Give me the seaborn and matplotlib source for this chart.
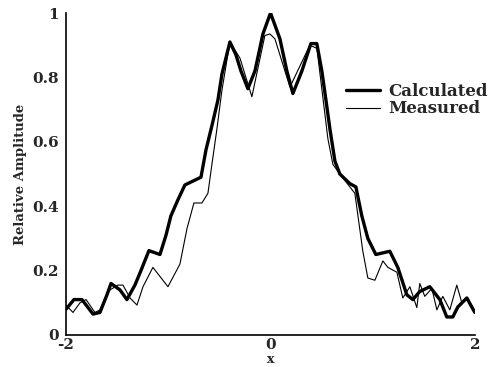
import numpy as np
import pandas as pd
import matplotlib
matplotlib.use("Agg")
import matplotlib.pyplot as plt
import seaborn as sns

calc_x = [-2.0, -1.922, -1.844, -1.736, -1.668, -1.599, -1.560, -1.472, -1.404, -1.326,
          -1.267, -1.189, -1.081, -1.022, -0.974, -0.905, -0.837, -0.680, -0.631, -0.573,
          -0.514, -0.475, -0.397, -0.338, -0.289, -0.221, -0.152, -0.074, 0.0, 0.092,
          0.160, 0.219, 0.307, 0.395, 0.453, 0.502, 0.542, 0.581, 0.630, 0.678,
          0.776, 0.835, 0.893, 0.952, 1.030, 1.167, 1.245, 1.333, 1.392, 1.460,
          1.558, 1.656, 1.724, 1.783, 1.832, 1.920, 1.998]
calc_y = [0.08, 0.11, 0.11, 0.065, 0.07, 0.125, 0.16, 0.14, 0.11, 0.155,
          0.20, 0.262, 0.25, 0.31, 0.37, 0.42, 0.466, 0.49, 0.575, 0.65,
          0.73, 0.81, 0.91, 0.87, 0.82, 0.765, 0.82, 0.935, 1.0, 0.92,
          0.82, 0.75, 0.82, 0.905, 0.905, 0.82, 0.73, 0.64, 0.54, 0.50,
          0.47, 0.46, 0.37, 0.30, 0.25, 0.26, 0.21, 0.125, 0.11, 0.135,
          0.15, 0.11, 0.056, 0.056, 0.087, 0.115, 0.07]

meas_x = [-2.0, -1.932, -1.863, -1.804, -1.717, -1.668, -1.609, -1.570, -1.492, -1.443,
          -1.374, -1.306, -1.247, -1.150, -1.003, -0.886, -0.817, -0.749, -0.671, -0.612,
          -0.573, -0.524, -0.475, -0.397, -0.299, -0.182, -0.055, -0.006, 0.043, 0.190,
          0.385, 0.454, 0.561, 0.610, 0.678, 0.825, 0.903, 0.952, 1.021, 1.099,
          1.148, 1.236, 1.294, 1.363, 1.431, 1.460, 1.509, 1.578, 1.627, 1.685,
          1.754, 1.822, 1.871, 1.930, 1.998]
meas_y = [0.093, 0.07, 0.10, 0.11, 0.07, 0.078, 0.12, 0.14, 0.155, 0.155,
          0.115, 0.093, 0.15, 0.21, 0.15, 0.22, 0.33, 0.41, 0.41, 0.44,
          0.53, 0.64, 0.76, 0.91, 0.86, 0.74, 0.93, 0.935, 0.92, 0.77,
          0.90, 0.89, 0.61, 0.53, 0.50, 0.44, 0.26, 0.177, 0.17, 0.23,
          0.21, 0.195, 0.115, 0.15, 0.085, 0.16, 0.12, 0.145, 0.078, 0.12,
          0.078, 0.155, 0.10, 0.115, 0.07]

yticks = [0, 0.2, 0.4, 0.6, 0.8, 1]
yticklabels = ["0", "0.2", "0.4", "0.6", "0.8", "1"]
xticks = [-2, 0, 2]
xticklabels = ["-2", "0", "2"]

sns.set_style("white")
plt.rcParams['font.family'] = ['DejaVu Serif']
plt.rcParams['font.weight'] = 'bold'

fig = plt.figure(figsize=(4.97, 3.67), dpi=100)
ax = fig.add_axes([66/497, 32/367, 409/497, 322/367])

df_c = pd.DataFrame({"x": calc_x, "y": calc_y})
df_m = pd.DataFrame({"x": meas_x, "y": meas_y})
sns.lineplot(data=df_c, x="x", y="y", ax=ax, color="black", lw=2.4, sort=False,
             label="Calculated")
sns.lineplot(data=df_m, x="x", y="y", ax=ax, color="black", lw=0.8, sort=False,
             label="Measured")

ax.set_xlim(-2, 2)
ax.set_ylim(0, 1)
ax.set_xticks(xticks)
ax.set_xticklabels(xticklabels, fontsize=11, fontweight='bold')
ax.set_yticks(yticks)
ax.set_yticklabels(yticklabels, fontsize=11, fontweight='bold')
ax.set_yticks(np.arange(0.1, 1.0, 0.2), minor=True)
ax.tick_params(axis='y', which='major', direction='out', length=3, width=1, pad=2)
ax.tick_params(axis='y', which='minor', direction='out', length=2, width=1)
ax.tick_params(axis='x', which='major', direction='in', length=3, width=1, pad=2)
for s in ["top", "right"]:
    ax.spines[s].set_visible(False)
for s in ["left", "bottom"]:
    ax.spines[s].set_color("black")
    ax.spines[s].set_linewidth(1.2)

ax.set_xlabel("x", fontsize=9, fontweight='bold', labelpad=1)
ax.set_ylabel("Relative Amplitude", fontsize=9.5, fontweight='bold', labelpad=4)

leg = ax.legend(loc="center left", bbox_to_anchor=(0.665, 0.73), frameon=False,
                handlelength=2.0, handletextpad=0.5, labelspacing=0.05,
                borderpad=0, prop={'weight': 'bold', 'size': 12})

fig.savefig("out.png", dpi=100)
